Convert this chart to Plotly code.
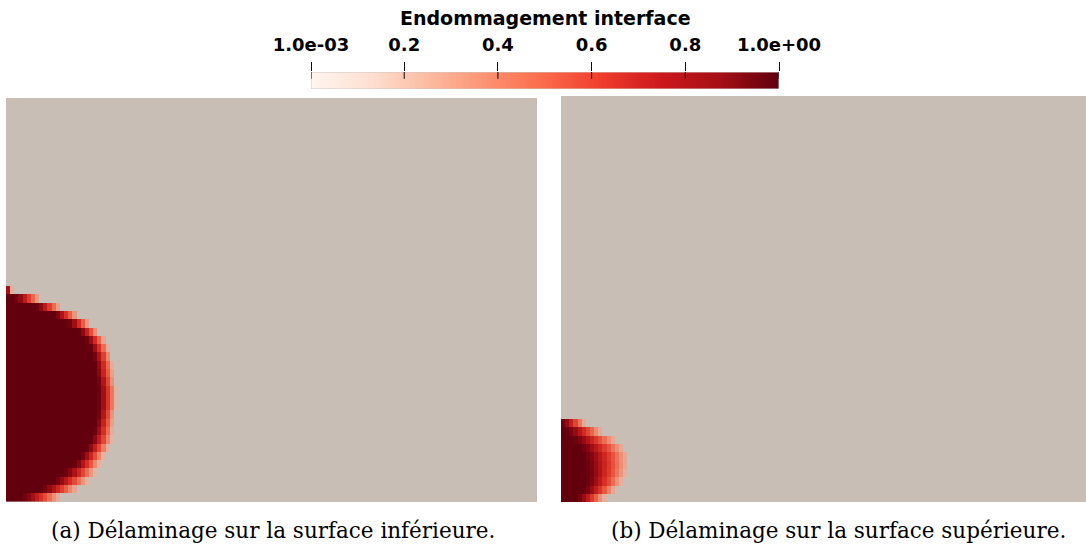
import numpy as np
import plotly.graph_objects as go

# Damage front of the interface, one entry per mesh row (row 0 = lower edge),
# positions in element units measured from the left edge of the plate.
# core  : end of the fully delaminated zone
# front : outer limit of the damaged zone
core_inf = [1.8, 4.2, 5.7, 7.0, 8.1, 8.9, 9.6, 10.2, 10.6, 10.8, 11.0, 11.1, 11.1,
            11.1, 11.0, 10.8, 10.7, 10.5, 10.1, 9.6, 8.7, 7.5, 5.8, 3.6, 1.0, 0.0]
front_inf = [6.6, 8.7, 9.9, 10.8, 11.4, 11.9, 12.4, 12.8, 12.9, 13.0, 13.1, 13.3, 13.3,
             13.3, 13.1, 13.0, 12.9, 12.7, 12.4, 12.0, 11.2, 10.1, 8.7, 6.6, 4.2, 0.8]

core_sup = [1.8, 2.7, 3.0, 3.0, 2.9, 2.7, 2.2, 1.4, 0.6, 0.0]
front_sup = [5.4, 6.6, 7.5, 8.0, 8.2, 8.2, 7.7, 6.7, 5.1, 3.0]

# Plate extents (width, height) in element units
plate_inf = (64.0, 48.7)
plate_sup = (63.3, 48.9)

cbar_title = "Endommagement interface"
cbar_range = (0.001, 1.0)
cbar_ticks = [0.001, 0.2, 0.4, 0.6, 0.8, 1.0]
cbar_text = ["1.0e-03", "0.2", "0.4", "0.6", "0.8", "1.0e+00"]

captions = ["(a) Délaminage sur la surface inférieure.",
            "(b) Délaminage sur la surface supérieure."]

BEIGE = "rgb(200,190,181)"

reds = [
    [0.0, "rgb(255,245,240)"], [0.125, "rgb(254,224,210)"], [0.25, "rgb(252,187,161)"],
    [0.375, "rgb(252,146,114)"], [0.5, "rgb(251,106,74)"], [0.625, "rgb(239,59,44)"],
    [0.75, "rgb(203,24,29)"], [0.875, "rgb(165,15,21)"], [1.0, "rgb(95,0,13)"],
]

# colours of the rendered surface: undamaged material is beige
surface_scale = [
    [0.0, BEIGE], [0.04, "rgb(214,190,180)"], [0.15, "rgb(230,176,158)"],
    [0.3, "rgb(236,138,112)"], [0.45, "rgb(232,86,62)"], [0.6, "rgb(214,44,36)"],
    [0.75, "rgb(172,18,22)"], [0.88, "rgb(128,5,16)"], [1.0, "rgb(98,0,13)"],
]


def damage_grid(core, front, width, height, dx=0.5):
    nx = int(round(width / dx))
    ny = int(np.ceil(height))
    xc = (np.arange(nx) + 0.5) * dx
    yc = np.arange(ny) + 0.5
    z = np.zeros((ny, nx))
    for j, (c, f) in enumerate(zip(core, front)):
        if f <= 0:
            continue
        t = np.clip((xc - c) / max(f - c, 1e-6), 0, 1)
        v = 1 - 0.9 * t ** 1.15
        v[xc > f] = 0.0
        z[j] = v
    return xc, yc, z


fig = go.Figure()

for k, (core, front, plate) in enumerate([(core_inf, front_inf, plate_inf),
                                          (core_sup, front_sup, plate_sup)]):
    xc, yc, z = damage_grid(core, front, *plate)
    sfx = "" if k == 0 else "2"
    fig.add_trace(go.Heatmap(
        x=xc, y=yc, z=z, zmin=0, zmax=1, colorscale=surface_scale,
        showscale=False, hoverinfo="skip", xaxis="x" + sfx, yaxis="y" + sfx,
    ))

# colour legend bar for the damage variable, drawn on its own axis
bar_x = np.linspace(cbar_range[0], cbar_range[1], 400)
fig.add_trace(go.Heatmap(
    x=bar_x, y=[0], z=[bar_x], zmin=cbar_range[0], zmax=cbar_range[1],
    colorscale=reds, showscale=False, hoverinfo="skip", xaxis="x3", yaxis="y3",
))

W, H = 1086, 549
ax_common = dict(visible=False, showgrid=False, zeroline=False, fixedrange=True,
                 automargin=False)
bar_top, bar_bot = 72, 89

fig.update_layout(
    template="none",
    width=W, height=H, margin=dict(l=0, r=0, t=0, b=0, autoexpand=False),
    paper_bgcolor="white", plot_bgcolor=BEIGE, showlegend=False,
    xaxis=dict(domain=[6 / W, 537 / W], range=[0, plate_inf[0]], **ax_common),
    yaxis=dict(domain=[(H - 502) / H, (H - 98) / H], range=[0, plate_inf[1]], **ax_common),
    xaxis2=dict(domain=[561 / W, 1.0], range=[0, plate_sup[0]], anchor="y2", **ax_common),
    yaxis2=dict(domain=[(H - 502) / H, (H - 96) / H], range=[0, plate_sup[1]], anchor="x2",
                **ax_common),
    xaxis3=dict(
        domain=[311 / W, 779 / W], range=list(cbar_range), anchor="y3", side="top",
        showgrid=False, zeroline=False, fixedrange=True, showline=False, automargin=False,
        tickmode="array", tickvals=cbar_ticks, ticktext=cbar_text,
        ticks="outside", ticklen=9, tickwidth=1, tickcolor="black",
        ticklabelstandoff=4,
        tickfont=dict(family="DejaVu Sans", size=18, color="black", weight="bold"),
    ),
    yaxis3=dict(domain=[(H - bar_bot) / H, (H - bar_top) / H], range=[-0.5, 0.5],
                anchor="x3", **ax_common),
)

# thin frame round the legend bar, and tick marks running into it
fig.add_shape(type="rect", xref="x3", yref="y3", x0=cbar_range[0], x1=cbar_range[1],
              y0=-0.5, y1=0.5, line=dict(color="rgb(205,200,196)", width=1))
for tv in cbar_ticks:
    fig.add_shape(type="line", xref="x3", yref="y3", x0=tv, x1=tv, y0=0.1, y1=0.5,
                  line=dict(color="black", width=1))

fig.add_annotation(
    x=545 / W, y=(H - 18) / H, xref="paper", yref="paper", text=cbar_title,
    showarrow=False, xanchor="center", yanchor="middle",
    font=dict(family="DejaVu Sans", size=19, color="black", weight="bold"),
)

for cx, text in zip([273, 838], captions):
    fig.add_annotation(
        x=cx / W, y=(H - 530) / H, xref="paper", yref="paper", text=text, showarrow=False,
        xanchor="center", yanchor="middle",
        font=dict(family="DejaVu Serif", size=21.5, color="black"),
    )

fig.write_html("out.html")
